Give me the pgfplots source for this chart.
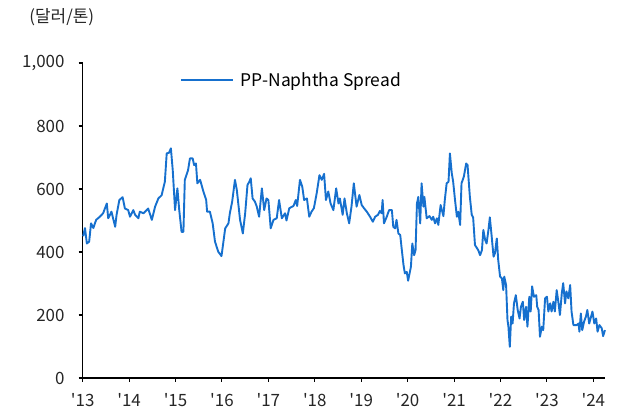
\documentclass[border=0pt]{standalone}
\usepackage{pgfplots}
\pgfplotsset{compat=1.18}
\usepackage{fontspec}
\setmainfont[Ligatures=TeXOff]{Noto Sans CJK KR}
\definecolor{spread}{RGB}{22,112,206}

\begin{document}
\begin{tikzpicture}
\begin{axis}[
    width=522.3bp, height=315bp, scale only axis,
    xmin=2013, xmax=2024.25,
    ymin=0, ymax=1000,
    xtick={2013,2014,...,2024},
    xticklabels={'13,'14,'15,'16,'17,'18,'19,'20,'21,'22,'23,'24},
    ytick={0,200,...,1000},
    axis x line=bottom, axis y line=left,
    axis line style={-, line width=1.1bp, black},
    tick align=outside, major tick length=4bp,
    tick style={line width=1.1bp, black},
    /pgf/number format/1000 sep={,},
    /pgf/number format/assume math mode=true,
    tick label style={font=\fontsize{17}{19}\selectfont, text=black!85},
    yticklabel style={inner sep=0pt, xshift=-14bp},
    xticklabel style={inner sep=0pt, yshift=-11bp},
    clip=false,
    legend style={draw=none, fill=none, at={(rel axis cs:0.186,0.946)}, anchor=west,
        font=\fontsize{17.5}{19}\selectfont, inner sep=0pt,
        /tikz/every odd column/.style={column sep=5bp}},
    legend cell align=left,
    legend image code/.code={\draw[#1] (0bp,0bp) -- (52bp,0bp);},
]
\addplot[spread, line width=1.9bp, line join=round] coordinates {
(2013.01,450) (2013.05,476) (2013.09,427) (2013.14,433) (2013.18,491) (2013.23,476)
(2013.29,502) (2013.37,512) (2013.44,523) (2013.52,554) (2013.55,507) (2013.62,528)
(2013.70,480) (2013.73,518) (2013.79,565) (2013.86,574) (2013.91,538) (2013.98,533)
(2014.02,512) (2014.09,533) (2014.13,518) (2014.20,507) (2014.23,528) (2014.31,523)
(2014.41,538) (2014.49,502) (2014.56,544) (2014.63,570) (2014.70,580) (2014.77,623)
(2014.81,713) (2014.86,715) (2014.90,729) (2014.94,660) (2014.99,533) (2015.04,602)
(2015.08,533) (2015.13,464) (2015.17,464) (2015.20,629) (2015.27,660) (2015.31,697)
(2015.37,697) (2015.40,676) (2015.44,681) (2015.47,618) (2015.53,629) (2015.60,592)
(2015.66,565) (2015.68,528) (2015.74,528) (2015.80,491) (2015.85,433) (2015.92,401)
(2015.99,387) (2016.07,475) (2016.14,491) (2016.17,523) (2016.22,560) (2016.28,629)
(2016.32,597) (2016.39,502) (2016.45,459) (2016.50,523) (2016.55,613) (2016.59,623)
(2016.62,634) (2016.66,570) (2016.71,560) (2016.75,544) (2016.80,512) (2016.86,602)
(2016.91,533) (2016.96,570) (2017.00,565) (2017.05,475) (2017.11,502) (2017.18,507)
(2017.23,565) (2017.29,507) (2017.36,523) (2017.39,500) (2017.45,539) (2017.54,546)
(2017.59,565) (2017.62,546) (2017.68,629) (2017.73,607) (2017.77,565) (2017.83,570)
(2017.88,512) (2017.93,528) (2017.98,539) (2018.04,586) (2018.10,644) (2018.15,629)
(2018.20,648) (2018.24,565) (2018.29,592) (2018.34,554) (2018.40,533) (2018.46,602)
(2018.51,554) (2018.54,570) (2018.60,518) (2018.64,570) (2018.69,523) (2018.74,491)
(2018.79,544) (2018.84,618) (2018.90,544) (2018.96,581) (2019.01,549) (2019.06,539)
(2019.12,528) (2019.19,512) (2019.25,496) (2019.30,512) (2019.36,518) (2019.40,530)
(2019.44,523) (2019.46,565) (2019.49,491) (2019.55,512) (2019.60,533) (2019.66,533)
(2019.69,480) (2019.73,475) (2019.76,502) (2019.80,459) (2019.84,454) (2019.87,412)
(2019.91,359) (2019.94,332) (2019.98,337) (2020.01,309) (2020.07,353) (2020.10,427)
(2020.14,390) (2020.17,406) (2020.20,554) (2020.23,575) (2020.27,491) (2020.30,618)
(2020.34,544) (2020.36,575) (2020.41,507) (2020.47,514) (2020.52,502) (2020.55,512)
(2020.59,491) (2020.63,507) (2020.66,486) (2020.71,549) (2020.77,514) (2020.80,565)
(2020.84,618) (2020.88,623) (2020.91,713) (2020.95,650) (2020.98,623) (2021.02,565)
(2021.06,512) (2021.09,528) (2021.13,486) (2021.16,618) (2021.21,639) (2021.26,681)
(2021.29,676) (2021.34,575) (2021.38,518) (2021.41,510) (2021.45,422) (2021.52,406)
(2021.56,390) (2021.60,406) (2021.63,470) (2021.67,438) (2021.70,427) (2021.74,470)
(2021.77,510) (2021.81,449) (2021.85,385) (2021.88,396) (2021.92,443) (2021.95,375)
(2021.99,322) (2022.03,316) (2022.06,279) (2022.08,322) (2022.12,295) (2022.15,184)
(2022.17,163) (2022.20,99) (2022.23,195) (2022.26,173) (2022.29,237) (2022.33,263)
(2022.37,216) (2022.41,189) (2022.44,226) (2022.48,242) (2022.51,184) (2022.55,226)
(2022.58,163) (2022.62,258) (2022.65,211) (2022.68,291) (2022.72,258) (2022.77,263)
(2022.79,226) (2022.82,216) (2022.85,131) (2022.89,163) (2022.92,152) (2022.96,253)
(2023.00,258) (2023.03,211) (2023.07,237) (2023.10,211) (2023.14,242) (2023.17,211)
(2023.21,279) (2023.24,248) (2023.28,200) (2023.32,269) (2023.35,301) (2023.39,237)
(2023.42,275) (2023.46,253) (2023.50,295) (2023.53,211) (2023.57,168) (2023.64,168)
(2023.68,173) (2023.70,147) (2023.73,205) (2023.76,152) (2023.80,179) (2023.84,195)
(2023.87,216) (2023.91,173) (2023.94,189) (2023.98,211) (2024.02,173) (2024.06,189)
(2024.09,147) (2024.13,168) (2024.18,158) (2024.21,133) (2024.25,152)
};
\addlegendentry{PP-Naphtha Spread}
\node[anchor=center, font=\fontsize{17}{19}\selectfont, text=black!85]
    at (rel axis cs:-0.04,1.146) {(달러/톤)};
\path (rel axis cs:-0.1583,-0.1206) rectangle (rel axis cs:1.0326,1.2);
\end{axis}
\end{tikzpicture}
\end{document}
